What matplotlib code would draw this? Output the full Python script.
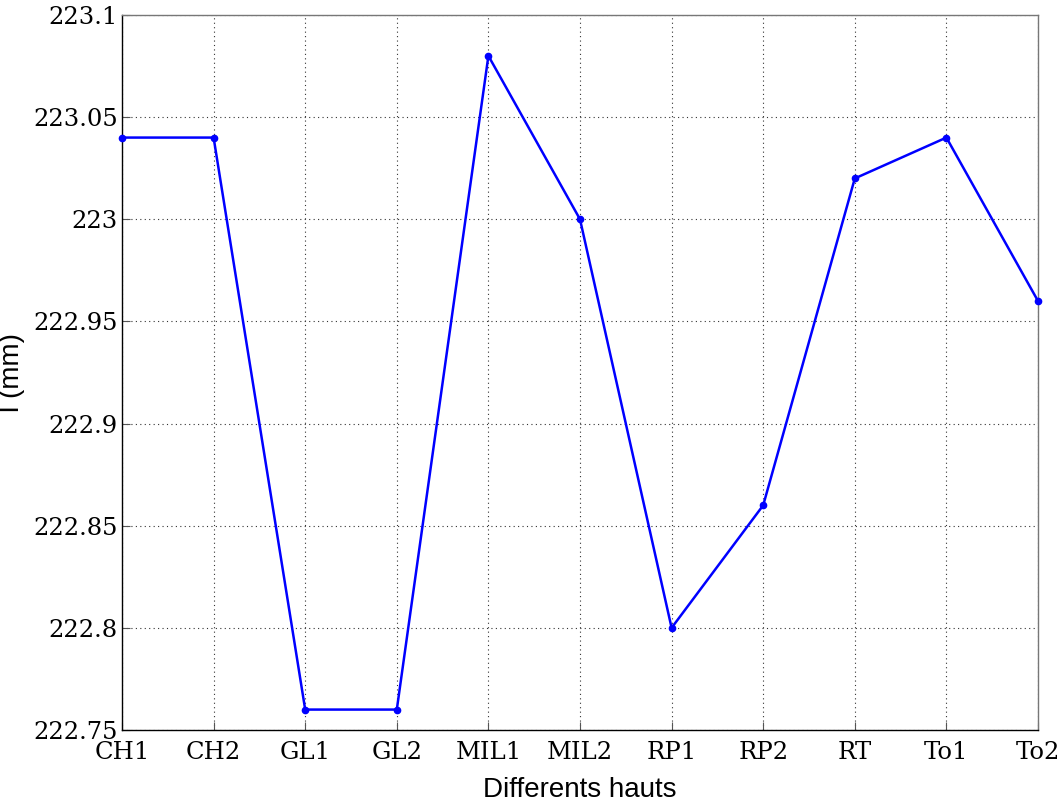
import matplotlib
matplotlib.use("Agg")
import matplotlib.pyplot as plt

categories = ["CH1", "CH2", "GL1", "GL2", "MIL1", "MIL2", "RP1", "RP2", "RT", "To1", "To2"]
values = [223.04, 223.04, 222.76, 222.76, 223.08, 223.00, 222.80, 222.86, 223.02, 223.04, 222.96]
yticks = [222.75, 222.8, 222.85, 222.9, 222.95, 223.0, 223.05, 223.1]
ytick_labels = ["222.75", "222.8", "222.85", "222.9", "222.95", "223", "223.05", "223.1"]

fig = plt.figure(figsize=(10.63, 8.05), dpi=100)
ax = fig.add_axes([122 / 1063, 1 - 730 / 805, (1038 - 122) / 1063, (730 - 15) / 805])

x = list(range(len(categories)))
ax.plot(x, values, color="#0000ff", linewidth=1.8, marker="o", markersize=4.5,
        clip_on=False, zorder=3)

ax.set_xlim(0, len(categories) - 1)
ax.set_ylim(222.75, 223.1)
ax.set_xticks(x)
ax.set_xticklabels(categories, fontfamily="DejaVu Serif", fontsize=17.5)
ax.set_yticks(yticks)
ax.set_yticklabels(ytick_labels, fontfamily="DejaVu Serif", fontsize=17.5)
ax.tick_params(direction="in", length=6, width=0.8, color="#555555")
ax.tick_params(axis="x", pad=8)
ax.tick_params(axis="y", pad=3)

ax.grid(True, linestyle=(0, (1, 3)), color="#333333", linewidth=0.8)

for side in ("left", "bottom"):
    ax.spines[side].set_color("black")
    ax.spines[side].set_linewidth(1.0)
for side in ("top", "right"):
    ax.spines[side].set_color("#777777")
    ax.spines[side].set_linewidth(1.0)

ax.set_xlabel("Differents hauts", fontfamily="Liberation Sans", fontsize=20, labelpad=9)
ax.set_ylabel("l (mm)", fontfamily="Liberation Sans", fontsize=20, va="center")
ax.yaxis.set_label_coords(-0.1205, 0.5)

fig.savefig("out.png", dpi=100)
